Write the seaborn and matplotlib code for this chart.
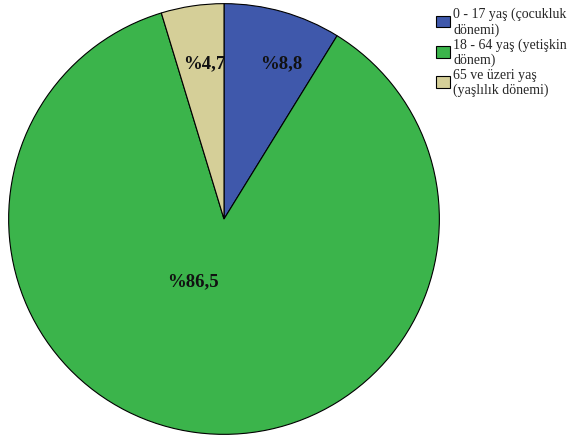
import matplotlib
matplotlib.use("Agg")
import matplotlib.pyplot as plt
import seaborn as sns
from matplotlib.patches import Patch

sns.set_theme(style="white")
plt.rcParams['font.family'] = ['Liberation Serif', 'DejaVu Serif']

categories = ["0 - 17 yaş (çocukluk\ndönemi)", "18 - 64 yaş (yetişkin\ndönem)", "65 ve üzeri yaş\n(yaşlılık dönemi)"]
values = [8.8, 86.5, 4.7]
colors = ["#3f58ab", "#3bb44b", "#d5cf98"]
value_labels = ["%8,8", "%86,5", "%4,7"]
# label anchors in axes fraction
label_pos = [(0.633, 0.862), (0.428, 0.357), (0.454, 0.862)]

W, H = 570, 439
fig = plt.figure(figsize=(W / 100, H / 100), dpi=100)
cx, cy, r = 224, 220, 216
ax = fig.add_axes([(cx - r) / W, 1 - (cy + r) / H, 2 * r / W, 2 * r / H])

wedges, _ = ax.pie(values, colors=colors, startangle=90, counterclock=False,
                   wedgeprops=dict(edgecolor="black", linewidth=0.8))
ax.set_xlim(-1.003, 1.003)
ax.set_ylim(-1.003, 1.003)
ax.set_aspect("equal")

for lbl, (x, y) in zip(value_labels, label_pos):
    ax.text(x, y, lbl, transform=ax.transAxes, ha="center", va="center",
            fontsize=13.5, fontweight="bold", color="#111111")

handles = [Patch(facecolor=c, edgecolor="black", linewidth=0.8) for c in colors]
fig.legend(handles, categories, loc="upper left", bbox_to_anchor=(0.756, 0.995),
           frameon=False, fontsize=10, handlelength=0.95, handleheight=0.95,
           handletextpad=0.25, labelspacing=0.1, borderaxespad=0)

fig.savefig("out.png", dpi=100)
